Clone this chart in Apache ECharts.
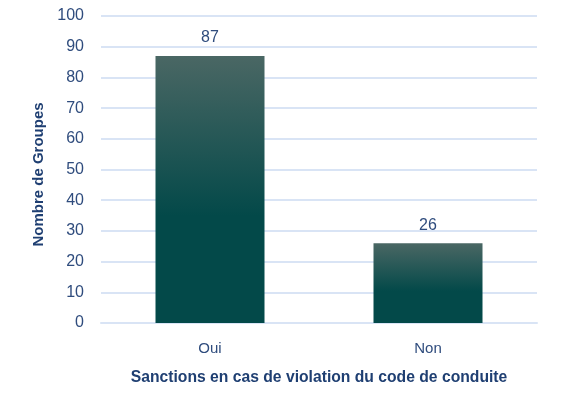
<!DOCTYPE html>
<html><head><meta charset="utf-8">
<script src="https://cdn.jsdelivr.net/npm/echarts@6/dist/echarts.min.js"></script>
<style>html,body{margin:0;padding:0;background:#fff}#c{width:561px;height:395px}</style>
</head><body><div id="c"></div>
<script>
const categories = ["Oui", "Non"];
const values = [87, 26];
const yTicks = [0, 10, 20, 30, 40, 50, 60, 70, 80, 90, 100];
const xTitle = "Sanctions en cas de violation du code de conduite";
const yTitle = "Nombre de Groupes";

const font = "Liberation Sans";
const textColor = "#2f4c7d";
const titleColor = "#1f3f72";
const gridColor = "#d9e4f5";

const chart = echarts.init(document.getElementById('c'));
chart.setOption({
  animation: false,
  grid: {left: 101, right: 24, top: 16, bottom: 72},
  xAxis: {
    type: 'category', data: categories,
    name: xTitle, nameLocation: 'middle', nameGap: 47,
    nameTextStyle: {fontFamily: font, fontWeight: 'bold', fontSize: 15.7, color: titleColor},
    axisLine: {lineStyle: {color: gridColor, width: 2}},
    axisTick: {show: false},
    axisLabel: {fontFamily: font, fontSize: 15, color: textColor, margin: 18}
  },
  yAxis: {
    type: 'value', min: yTicks[0], max: yTicks[yTicks.length-1], interval: 10,
    name: yTitle, nameLocation: 'middle', nameGap: 54,
    nameTextStyle: {fontFamily: font, fontWeight: 'bold', fontSize: 15, color: titleColor, padding: [0, 0, 0, -10]},
    axisLine: {show: false}, axisTick: {show: false},
    axisLabel: {fontFamily: font, fontSize: 16, color: textColor, margin: 17},
    splitLine: {lineStyle: {color: gridColor, width: 2}}
  },
  series: [{
    type: 'bar', data: values, barWidth: '50%',
    itemStyle: {color: new echarts.graphic.LinearGradient(0, 0, 0, 1, [
      {offset: 0, color: '#4a6764'},
      {offset: 0.6, color: '#034949'},
      {offset: 1, color: '#034949'}
    ])},
    label: {show: true, position: 'top', distance: 10, fontFamily: font, fontSize: 16, color: textColor}
  }]
});
</script></body></html>
